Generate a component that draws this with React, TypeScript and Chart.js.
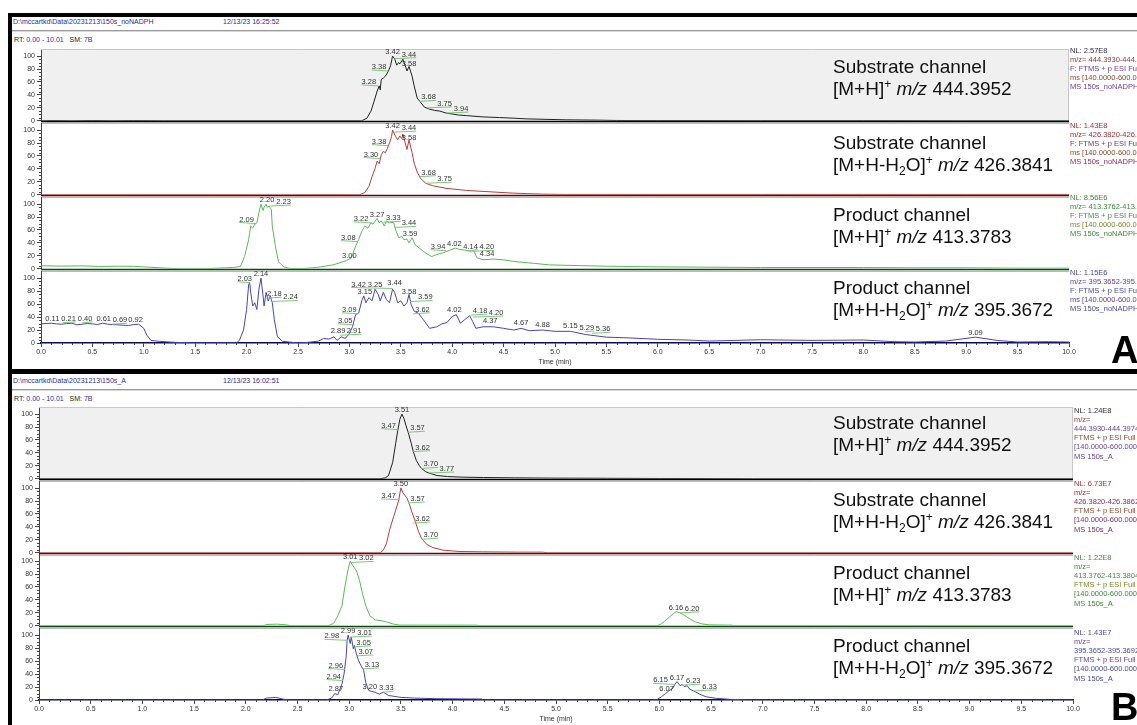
import React, { useEffect, useRef } from 'react';
import { Chart, registerables } from 'chart.js';

Chart.register(...registerables);

const FONT = '"Liberation Sans", Arial, Helvetica, sans-serif';
Chart.defaults.font.family = FONT;

// ---------- axis ticks ----------
const X_TICKS = [0, 0.5, 1, 1.5, 2, 2.5, 3, 3.5, 4, 4.5, 5, 5.5, 6, 6.5, 7, 7.5, 8, 8.5, 9, 9.5, 10];
const Y_TICKS = [0, 20, 40, 60, 80, 100];

// ---------- Group A (150s_noNADPH) traces: [time (min), relative abundance %] ----------
const A1_TRACE = [[0,0],[0.1,0.4],[0.3,0],[0.5,0.4],[0.7,0],[0.9,0.3],[1.2,0],[3.12,0],[3.17,4],[3.21,15],[3.24,30],[3.27,46],[3.29,54],[3.30,48],[3.31,64],[3.33,66],[3.35,69],[3.38,77],[3.40,85],[3.42,100],[3.44,96],[3.46,86],[3.48,90],[3.49,88],[3.52,95],[3.55,82],[3.56,77],[3.58,84],[3.61,69],[3.63,54],[3.66,35],[3.69,29],[3.73,21],[3.78,18],[3.83,16],[3.88,15],[3.94,12],[3.98,11],[4.06,9],[4.14,8],[4.30,6],[4.46,5],[4.6,4],[4.72,3],[5.11,1.5],[5.43,1],[5.6,0.5],[6.0,0.3],[7.0,0.2],[8.0,0.2],[9.0,0],[10,0]];
const A1_PEAKS = [[3.28,54],[3.38,77],[3.42,100],[3.44,96],[3.58,82],[3.68,30],[3.75,20],[3.94,12]];

const A2_TRACE = [[0,0],[3.10,0],[3.15,3.6],[3.19,13],[3.22,28],[3.25,41],[3.27,52],[3.29,48],[3.31,62],[3.33,67],[3.35,65],[3.37,72],[3.39,80],[3.41,90],[3.42,100],[3.45,90],[3.47,85],[3.49,91],[3.51,87],[3.52,94],[3.55,76],[3.56,70],[3.58,85],[3.61,65],[3.63,49],[3.66,35],[3.69,26],[3.74,18],[3.81,14],[3.94,10],[4.14,6.7],[4.33,5],[4.59,2.6],[4.88,1],[5.11,0.6],[6,0.5],[7,0.5],[8,0.6],[9,0.5],[10,0.5]];
const A2_PEAKS = [[3.30,56],[3.38,76],[3.42,100],[3.44,97],[3.58,82],[3.68,28],[3.75,18]];

const A3_TRACE = [[0,4.7],[0.2,4.2],[0.4,4.5],[0.57,3.6],[0.75,4],[0.9,3.8],[1.0,3],[1.16,1.5],[1.35,0],[1.61,0],[1.71,1],[1.87,2],[1.94,3.6],[1.98,19],[2.02,45],[2.04,66],[2.06,63],[2.08,69],[2.10,71],[2.12,87],[2.14,100],[2.16,90],[2.17,95],[2.19,100],[2.20,95],[2.22,97],[2.24,92],[2.25,66],[2.28,35],[2.31,11],[2.36,3],[2.42,0.5],[2.55,0.5],[2.68,2],[2.84,6],[2.97,12.5],[3.02,17],[3.06,35],[3.09,45],[3.12,58],[3.15,66],[3.18,63],[3.21,71],[3.23,69],[3.27,78],[3.29,71],[3.31,74],[3.34,66],[3.36,74],[3.39,71],[3.43,72],[3.45,60],[3.48,48],[3.51,50],[3.53,45],[3.56,46],[3.58,40],[3.61,48],[3.64,37],[3.68,32],[3.74,24.5],[3.80,19],[3.85,22],[3.91,24.5],[3.98,29],[4.03,32],[4.07,30],[4.12,29],[4.17,27],[4.21,28],[4.24,17],[4.30,14],[4.40,15],[4.49,14],[4.62,11],[4.79,8.5],[4.95,6],[5.5,4],[6.0,3],[6.5,2.5],[7.0,2],[7.5,2],[8.0,2],[8.5,1.5],[9.0,1.5],[9.5,1],[10,1]];
const A3_PEAKS = [[2.09,70],[2.20,100],[2.23,97],[3.00,13],[3.08,42],[3.22,71],[3.27,77],[3.33,72],[3.44,64],[3.59,48],[3.94,28],[4.02,32],[4.14,28],[4.20,27],[4.34,16]];

const A4_TRACE = [[0,29.5],[0.05,30],[0.1,30.5],[0.15,29.5],[0.2,29],[0.25,30],[0.3,30.5],[0.35,28],[0.4,29],[0.45,30],[0.5,29.5],[0.55,28.5],[0.6,30.5],[0.65,29],[0.7,28.4],[0.75,28],[0.8,27.4],[0.85,27],[0.9,28.4],[0.95,29],[1.0,22.6],[1.03,12],[1.07,4],[1.15,2.6],[1.3,1],[1.5,0],[1.9,0],[1.93,4],[1.97,20],[2.00,51.6],[2.02,90],[2.03,93],[2.04,78],[2.06,57],[2.08,62],[2.10,51.6],[2.12,83],[2.14,100],[2.16,72.6],[2.17,57],[2.19,78],[2.21,64.7],[2.23,72.6],[2.25,62],[2.27,35.8],[2.30,9.5],[2.35,2.6],[2.5,0],[2.6,1],[2.7,3],[2.75,7],[2.8,6],[2.85,9.5],[2.88,4],[2.92,9.5],[2.96,7],[3.0,14.7],[3.03,25],[3.06,43.7],[3.09,46],[3.12,65],[3.14,72.6],[3.16,62],[3.19,70],[3.22,65],[3.25,83],[3.28,75],[3.30,65],[3.33,78],[3.36,67],[3.39,62],[3.42,83],[3.44,78],[3.47,62],[3.50,65],[3.53,57],[3.56,62],[3.58,75],[3.60,59.5],[3.63,49],[3.67,46],[3.72,35.8],[3.78,22.6],[3.85,25],[3.90,29.5],[3.95,31.6],[4.00,41],[4.04,43.7],[4.08,30.5],[4.12,35.8],[4.17,42],[4.20,33],[4.23,22.6],[4.30,25],[4.40,25],[4.50,22.6],[4.60,20],[4.67,22.6],[4.75,19],[4.88,20],[5.00,18],[5.15,18],[5.3,13],[5.5,9],[5.7,8],[6.0,5.7],[6.3,4.6],[6.5,3],[7.0,5],[7.5,4],[8.0,4.6],[8.3,2],[8.5,1.5],[8.8,3],[9.09,9],[9.3,4],[9.5,1.5],[9.8,2],[10,1.5]];
const A4_PEAKS = [[0.11,31],[0.21,31],[0.40,31],[0.61,31],[0.69,29],[0.92,29],[2.03,93],[2.14,100],[2.18,69],[2.24,64],[2.89,12],[2.91,12],[3.05,28],[3.09,45],[3.15,73],[3.25,84],[3.42,84],[3.44,86],[3.58,72],[3.59,64],[3.62,45],[4.02,44],[4.18,43],[4.20,40],[4.37,28],[4.67,24],[4.88,22],[5.15,20],[5.29,17],[5.36,15],[9.09,10]];

// ---------- Group B (150s_A) traces ----------
const B1_TRACE = [[0,0],[3.30,0],[3.35,1.5],[3.38,5],[3.42,25],[3.45,55],[3.47,75],[3.49,92],[3.51,100],[3.53,93],[3.55,82],[3.57,72],[3.60,55],[3.62,42],[3.65,28],[3.68,20],[3.70,16],[3.74,11],[3.77,9],[3.85,5],[3.95,3.5],[4.1,2.5],[4.3,2],[4.6,1.5],[5.0,1],[5.5,0.8],[6.0,0.5],[6.5,0.3],[6.9,0],[10,0]];
const B1_PEAKS = [[3.47,76],[3.51,100],[3.57,72],[3.62,42],[3.70,16],[3.77,9]];

const B2_TRACE = [[0,0],[3.30,0],[3.33,4],[3.36,14],[3.39,35],[3.43,56],[3.46,71],[3.48,82],[3.49,92],[3.50,100],[3.52,93],[3.56,84],[3.58,76],[3.60,66],[3.64,48],[3.67,33],[3.70,22],[3.75,13],[3.81,8],[3.91,4],[4.07,2],[4.29,1.5],[4.62,1],[4.87,1],[4.92,0],[10,0]];
const B2_PEAKS = [[3.47,82],[3.50,100],[3.57,77],[3.62,46],[3.70,21]];

const B3_TRACE = [[0,0],[2.17,0],[2.20,2],[2.30,2.6],[2.39,1.5],[2.44,0],[2.80,0],[2.85,4],[2.89,15.5],[2.93,31],[2.96,62],[2.99,88],[3.01,100],[3.03,94],[3.07,85],[3.10,70],[3.13,49],[3.16,31],[3.20,15.5],[3.25,9],[3.31,8],[3.36,6],[3.43,2.6],[3.49,1],[3.82,1],[4.23,1],[4.26,0],[5.97,0],[6.01,2],[6.05,7],[6.10,14],[6.14,19],[6.16,22],[6.20,20],[6.25,15.5],[6.30,10],[6.35,6],[6.41,3],[6.48,1.5],[6.70,1],[6.72,0],[10,0]];
const B3_PEAKS = [[3.01,100],[3.02,98],[6.16,22],[6.20,20]];

const B4_TRACE = [[0,0],[2.16,0],[2.20,3],[2.29,4],[2.37,1],[2.42,0],[2.78,0],[2.83,3],[2.86,10],[2.89,8],[2.93,25],[2.95,40],[2.97,66],[2.98,92],[2.99,100],[3.01,87],[3.02,97],[3.04,79],[3.05,84],[3.07,71],[3.09,61],[3.12,51],[3.14,46],[3.16,27],[3.19,14.5],[3.25,12],[3.29,9],[3.33,12],[3.38,7],[3.50,4],[3.63,3],[3.84,2],[4.28,1.5],[4.30,0],[5.97,0],[6.02,5],[6.06,10],[6.09,14],[6.13,18],[6.15,24],[6.17,28.4],[6.20,22],[6.22,24],[6.24,20.7],[6.27,22],[6.29,17],[6.33,14],[6.39,9],[6.45,5],[6.55,2.6],[6.68,1],[6.79,0.5],[6.85,0],[10,0]];
const B4_PEAKS = [[2.87,11],[2.94,30],[2.96,47],[2.98,92],[2.99,100],[3.01,97],[3.05,82],[3.07,68],[3.13,48],[3.20,14],[3.33,12],[6.07,11],[6.15,24],[6.17,28],[6.23,23],[6.33,14]];

// ---------- text ----------
const A_FILE = 'D:\\mccartkd\\Data\\20231213\\150s_noNADPH';
const A_DATE = '12/13/23 16:25:52';
const B_FILE = 'D:\\mccartkd\\Data\\20231213\\150s_A';
const B_DATE = '12/13/23 16:02:51';

const A_NL = [
  ['NL: 2.57E8', 'm/z= 444.3930-444.3974', 'F: FTMS + p ESI Full', 'ms [140.0000-600.0000]', 'MS 150s_noNADPH'],
  ['NL: 1.43E8', 'm/z= 426.3820-426.3862', 'F: FTMS + p ESI Full', 'ms [140.0000-600.0000]', 'MS 150s_noNADPH'],
  ['NL: 8.56E6', 'm/z= 413.3762-413.3804', 'F: FTMS + p ESI Full', 'ms [140.0000-600.0000]', 'MS 150s_noNADPH'],
  ['NL: 1.15E6', 'm/z= 395.3652-395.3692', 'F: FTMS + p ESI Full', 'ms [140.0000-600.0000]', 'MS 150s_noNADPH'],
];
const B_NL = [
  ['NL: 1.24E8', 'm/z=', '444.3930-444.3974 F:', 'FTMS + p ESI Full ms', '[140.0000-600.0000]', 'MS 150s_A'],
  ['NL: 6.73E7', 'm/z=', '426.3820-426.3862 F:', 'FTMS + p ESI Full ms', '[140.0000-600.0000]', 'MS 150s_A'],
  ['NL: 1.22E8', 'm/z=', '413.3762-413.3804 F:', 'FTMS + p ESI Full ms', '[140.0000-600.0000]', 'MS 150s_A'],
  ['NL: 1.43E7', 'm/z=', '395.3652-395.3692 F:', 'FTMS + p ESI Full ms', '[140.0000-600.0000]', 'MS 150s_A'],
];
const CHANNEL_TITLES = ['Substrate channel', 'Substrate channel', 'Product channel', 'Product channel'];
const CHANNEL_WATER = [false, true, false, true];
const CHANNEL_MZ = ['444.3952', '426.3841', '413.3783', '395.3672'];

// ---------- styles ----------
type Sty = { line: string; dark: string; grey: boolean; nl: string[] };
const STYLES: Sty[] = [
  { line: '#202020', dark: '#000000', grey: true, nl: ['#2a2a4a', '#8b3a3a', '#6a3d9a', '#8b4a2a', '#6a3d9a', '#6a3d9a'] },
  { line: '#b83c3c', dark: '#5a0808', grey: false, nl: ['#a03030', '#a03030', '#8a3060', '#8b4a2a', '#8a3060', '#8a3060'] },
  { line: '#5cb85c', dark: '#0a4a0a', grey: false, nl: ['#3a8a3a', '#3a8a3a', '#4a8a4a', '#7a8a2a', '#3a8a3a', '#3a8a3a'] },
  { line: '#4444bb', dark: '#0a0a55', grey: false, nl: ['#4a4aa0', '#6a3d9a', '#4a4aa0', '#6a3d9a', '#4a4aa0', '#4a4aa0'] },
];
const LEADER = '#7cc87c';
const GEOM_A = { left: 41, right: 1069, bottoms: [121, 195, 269, 343] };
const GEOM_B = { left: 39, right: 1073, bottoms: [479, 553, 626, 700] };
const PANEL_H = 72;
const PAD_T = 10;
const PAD_B = 6;
const PAD_R = 12;
const XAXIS_H = 24;
const Y_MAX = 111;

function interp(trace: number[][], t: number): number {
  if (t <= trace[0][0]) return trace[0][1];
  for (let i = 1; i < trace.length; i++) {
    if (t <= trace[i][0]) {
      const f = (t - trace[i - 1][0]) / (trace[i][0] - trace[i - 1][0] || 1);
      return trace[i - 1][1] + f * (trace[i][1] - trace[i - 1][1]);
    }
  }
  return trace[trace.length - 1][1];
}

type PanelProps = { trace: number[][]; peaks: number[][]; sty: Sty; left: number; right: number; bottom: number; isBottom: boolean };

function ChromPanel(p: PanelProps) {
  const ref = useRef<HTMLCanvasElement>(null);
  const top = p.bottom - PANEL_H - PAD_T;
  const h = PAD_T + PANEL_H + (p.isBottom ? XAXIS_H : PAD_B);
  const w = p.right + PAD_R;

  useEffect(() => {
    const deco = {
      id: 'deco',
      beforeDatasetsDraw(chart: any) {
        const { ctx, chartArea: a } = chart;
        ctx.save();
        if (p.sty.grey) {
          ctx.fillStyle = '#f0f0f0';
          ctx.fillRect(a.left + 1, a.top, a.right - a.left - 1, a.bottom - a.top);
          ctx.strokeStyle = '#c8c8c8';
          ctx.lineWidth = 1;
          ctx.beginPath();
          ctx.moveTo(a.left, a.top + 0.5);
          ctx.lineTo(a.right - 0.5, a.top + 0.5);
          ctx.lineTo(a.right - 0.5, a.bottom);
          ctx.stroke();
        }
        if (!p.isBottom) {
          ctx.strokeStyle = '#a8a8a8';
          ctx.lineWidth = 1;
          ctx.beginPath();
          ctx.moveTo(a.left, a.bottom + 2.5);
          ctx.lineTo(a.right, a.bottom + 2.5);
          ctx.stroke();
          ctx.strokeStyle = p.sty.dark;
          ctx.lineWidth = 1.5;
          ctx.beginPath();
          ctx.moveTo(a.left, a.bottom + 0.75);
          ctx.lineTo(a.right, a.bottom + 0.75);
          ctx.stroke();
        }
        ctx.restore();
      },
      afterDatasetsDraw(chart: any) {
        const { ctx, chartArea: a } = chart;
        const xs = chart.scales.x;
        const ys = chart.scales.y;
        ctx.save();
        // minor y ticks
        ctx.strokeStyle = '#444';
        ctx.lineWidth = 1;
        ctx.beginPath();
        for (let i = 1; i < Y_TICKS.length; i++) {
          const lo = Y_TICKS[i - 1], hi = Y_TICKS[i];
          for (let k = 1; k < 4; k++) {
            const yy = Math.round(ys.getPixelForValue(lo + ((hi - lo) * k) / 4)) + 0.5;
            ctx.moveTo(a.left - 2, yy);
            ctx.lineTo(a.left, yy);
          }
        }
        if (p.isBottom) {
          for (let i = 1; i < X_TICKS.length; i++) {
            const lo = X_TICKS[i - 1], hi = X_TICKS[i];
            for (let k = 1; k < 5; k++) {
              const xx = Math.round(xs.getPixelForValue(lo + ((hi - lo) * k) / 5)) + 0.5;
              ctx.moveTo(xx, a.bottom);
              ctx.lineTo(xx, a.bottom + 2);
            }
          }
        }
        ctx.stroke();

        // peak labels: highest placed first; lower ones move away on collision
        ctx.font = '7.5px ' + FONT;
        ctx.textBaseline = 'alphabetic';
        type Box = { x0: number; x1: number; y0: number; y1: number; t: number };
        const placed: Box[] = [];
        const order = p.peaks.map((pk, i) => i).sort((i, j) => p.peaks[j][1] - p.peaks[i][1]);
        order.forEach(idx => {
          const [t, v] = p.peaks[idx];
          const txt = t.toFixed(2);
          const tw = ctx.measureText(txt).width;
          const px = xs.getPixelForValue(t);
          const py = ys.getPixelForValue(v);
          const before = interp(p.trace, t - 0.025);
          const after = interp(p.trace, t + 0.025);
          const d = after - before;
          const isApex = v >= before + 3 && v >= after + 3;
          const side = isApex || Math.abs(d) <= 8 ? 0 : d > 0 ? -1 : 1;
          let x0 = side === 0 ? px - tw / 2 : side === 1 ? px + 2 : px - tw - 2;
          const base = py - 2;
          const y0 = base - 6;
          const y1 = base + 1;
          const firstHit = (x: number) => placed.find(b => x < b.x1 + 1 && x + tw > b.x0 - 1 && y0 < b.y1 && y1 > b.y0);
          let n = 0;
          const h0 = firstHit(x0);
          if (h0) {
            const dir = side !== 0 ? side : t < h0.t ? -1 : 1;
            while (firstHit(x0) && n < 80) {
              x0 += dir;
              n++;
            }
          }
          placed.push({ x0, x1: x0 + tw, y0, y1, t });
          if (side !== 0 || n > 0) {
            ctx.strokeStyle = LEADER;
            ctx.lineWidth = 1;
            ctx.beginPath();
            if (x0 + tw / 2 >= px) {
              ctx.moveTo(px, py);
              ctx.lineTo(x0 + tw, base + 1);
            } else {
              ctx.moveTo(x0, base + 1);
              ctx.lineTo(px, py);
            }
            ctx.stroke();
          }
          ctx.fillStyle = '#333';
          ctx.fillText(txt, x0, base);
        });
        ctx.restore();
      },
    };

    const chart = new Chart(ref.current as HTMLCanvasElement, {
      type: 'line',
      data: {
        datasets: [
          {
            data: p.trace.map(([x, y]) => ({ x, y })),
            borderColor: p.sty.line,
            borderWidth: 1,
            pointRadius: 0,
            tension: 0,
            fill: false,
          },
        ],
      },
      options: {
        responsive: false,
        maintainAspectRatio: false,
        animation: false,
        events: [],
        layout: { padding: { top: PAD_T, bottom: p.isBottom ? 0 : PAD_B, left: 0, right: PAD_R } },
        plugins: { legend: { display: false }, tooltip: { enabled: false } },
        scales: {
          x: {
            type: 'linear',
            min: 0,
            max: 10,
            display: p.isBottom,
            afterFit: (s: any) => { s.height = p.isBottom ? XAXIS_H : 0; },
            afterBuildTicks: (s: any) => { s.ticks = X_TICKS.map(value => ({ value })); },
            ticks: {
              autoSkip: false,
              maxRotation: 0,
              padding: 1,
              color: '#333',
              font: { size: 7, family: FONT },
              callback: (v: any) => Number(v).toFixed(1),
            },
            grid: { drawOnChartArea: false, drawTicks: true, tickLength: 4, tickColor: '#444' },
            border: { display: true, color: p.sty.dark, width: 1.5 },
            title: { display: true, text: 'Time (min)', color: '#333', font: { size: 7, family: FONT }, padding: { top: 0, bottom: 1 } },
          },
          y: {
            min: 0,
            max: Y_MAX,
            afterFit: (s: any) => { s.width = p.left; },
            afterBuildTicks: (s: any) => { s.ticks = Y_TICKS.map(value => ({ value })); },
            ticks: { autoSkip: false, padding: 2, color: '#333', font: { size: 7, family: FONT }, callback: (v: any) => String(v) },
            grid: { drawOnChartArea: false, drawTicks: true, tickLength: 4, tickColor: '#444' },
            border: { display: true, color: '#444', width: 1 },
          },
        },
      } as any,
      plugins: [deco],
    });
    return () => chart.destroy();
  }, []);

  return <canvas ref={ref} width={w} height={h} style={{ position: 'absolute', left: 0, top, width: w, height: h }} />;
}

const Sup = ({ c }: { c: string }) => (
  <span style={{ fontSize: 12, position: 'relative', top: -7, lineHeight: 0 }}>{c}</span>
);
const Sub = ({ c }: { c: string }) => (
  <span style={{ fontSize: 12, position: 'relative', top: 4, lineHeight: 0 }}>{c}</span>
);

function ChannelText({ i, top }: { i: number; top: number }) {
  return (
    <div style={{ position: 'absolute', left: 833, top, fontFamily: FONT, fontSize: 19, lineHeight: '22px', color: '#111', whiteSpace: 'nowrap' }}>
      <div>{CHANNEL_TITLES[i]}</div>
      <div>
        [M+H{CHANNEL_WATER[i] ? (<>-H<Sub c="2" />O</>) : null}]<Sup c="+" /> <i>m/z</i> {CHANNEL_MZ[i]}
      </div>
    </div>
  );
}

function NLText({ lines, colors, left, top }: { lines: string[]; colors: string[]; left: number; top: number }) {
  return (
    <div style={{ position: 'absolute', left, top, fontFamily: FONT, fontSize: 7.5, lineHeight: '9.2px', whiteSpace: 'nowrap' }}>
      {lines.map((l, k) => (
        <div key={k} style={{ color: colors[k] }}>{l}</div>
      ))}
    </div>
  );
}

function Header({ file, date, top }: { file: string; date: string; top: number }) {
  const small = { position: 'absolute' as const, fontFamily: FONT, fontSize: 7, lineHeight: '9px', whiteSpace: 'nowrap' as const };
  return (
    <>
      <div style={{ ...small, left: 13, top: top, color: '#2c2ca0' }}>{file}</div>
      <div style={{ ...small, left: 223, top: top, color: '#2c2ca0' }}>{date}</div>
      <div style={{ position: 'absolute', left: 12, top: top + 13, width: 1200, height: 0, borderTop: '1px solid #9a9a9a', borderBottom: '1px solid #d8d8d8' }} />
      <div style={{ ...small, left: 14, top: top + 18, color: '#222' }}>
        RT: <span style={{ color: '#2c2ca0' }}>0.00 - 10.01</span>&nbsp;&nbsp; SM: <span style={{ color: '#2c2ca0' }}>7B</span>
      </div>
    </>
  );
}

const A_TRACES = [A1_TRACE, A2_TRACE, A3_TRACE, A4_TRACE];
const A_PEAKS = [A1_PEAKS, A2_PEAKS, A3_PEAKS, A4_PEAKS];
const B_TRACES = [B1_TRACE, B2_TRACE, B3_TRACE, B4_TRACE];
const B_PEAKS = [B1_PEAKS, B2_PEAKS, B3_PEAKS, B4_PEAKS];
const A_TEXT_TOPS = [56, 132, 204, 277];
const B_TEXT_TOPS = [412, 489, 562, 635];
const A_NL_TOPS = [45.5, 120.5, 192.5, 267.5];
const B_NL_TOPS = [405.5, 478.5, 552.5, 627.5];

export default function App() {
  return (
    <div style={{ position: 'absolute', left: 0, top: 0, width: 1137, height: 725, overflow: 'hidden', background: '#fff' }}>
      <div style={{ position: 'absolute', left: 8, top: 13, width: 1250, height: 360, border: '4px solid #000', boxSizing: 'border-box', background: '#fff' }} />
      <div style={{ position: 'absolute', left: 8, top: 370, width: 1250, height: 420, border: '4px solid #000', boxSizing: 'border-box', background: '#fff' }} />
      <Header file={A_FILE} date={A_DATE} top={17} />
      <Header file={B_FILE} date={B_DATE} top={376} />
      {A_TRACES.map((tr, i) => (
        <ChromPanel key={'a' + i} trace={tr} peaks={A_PEAKS[i]} sty={STYLES[i]} left={GEOM_A.left} right={GEOM_A.right} bottom={GEOM_A.bottoms[i]} isBottom={i === 3} />
      ))}
      {B_TRACES.map((tr, i) => (
        <ChromPanel key={'b' + i} trace={tr} peaks={B_PEAKS[i]} sty={STYLES[i]} left={GEOM_B.left} right={GEOM_B.right} bottom={GEOM_B.bottoms[i]} isBottom={i === 3} />
      ))}
      {A_TEXT_TOPS.map((t, i) => <ChannelText key={'ta' + i} i={i} top={t} />)}
      {B_TEXT_TOPS.map((t, i) => <ChannelText key={'tb' + i} i={i} top={t} />)}
      {A_NL.map((l, i) => <NLText key={'na' + i} lines={l} colors={STYLES[i].nl} left={1070} top={A_NL_TOPS[i]} />)}
      {B_NL.map((l, i) => <NLText key={'nb' + i} lines={l} colors={STYLES[i].nl} left={1074} top={B_NL_TOPS[i]} />)}
      <div style={{ position: 'absolute', left: 1111, top: 331, fontFamily: FONT, fontWeight: 'bold', fontSize: 38, lineHeight: '38px', color: '#000' }}>A</div>
      <div style={{ position: 'absolute', left: 1111, top: 688, fontFamily: FONT, fontWeight: 'bold', fontSize: 38, lineHeight: '38px', color: '#000' }}>B</div>
    </div>
  );
}
